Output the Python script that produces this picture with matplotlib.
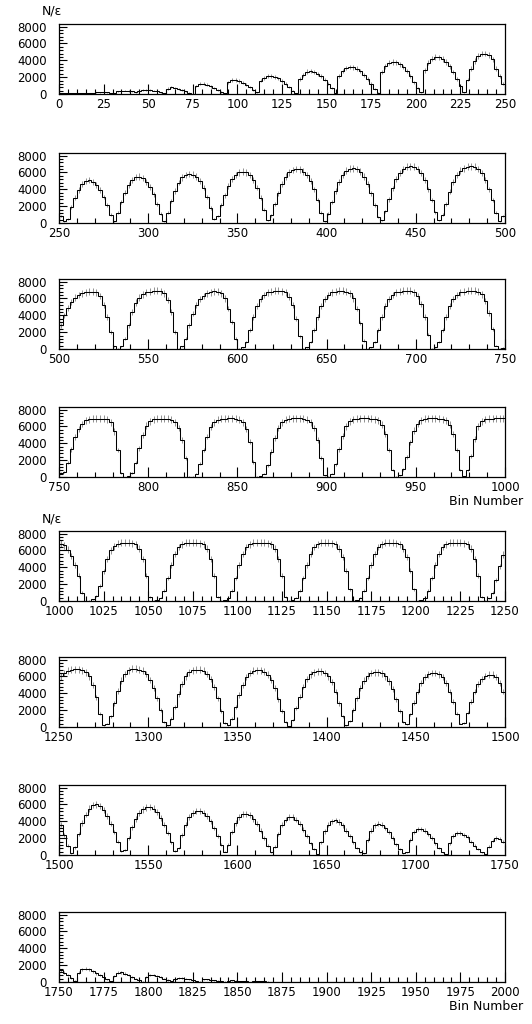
import numpy as np
import matplotlib.pyplot as plt
from matplotlib.ticker import MultipleLocator

# N/eps per 2-bin step, in units of 100 counts
p1 = [1, 1, 1, 1, 1, 1, 1, 1, 1, 1,
      2, 2, 2, 2, 1, 1,
      3, 4, 4, 3.5, 3, 2,
      4, 5, 5, 4.5, 4, 3, 2, 1,
      6.5, 8, 7.5, 6, 4.5, 3, 1.5, 0.5,
      9.5, 12, 12, 11, 9, 7, 4.5, 2.5, 0.8,
      14, 16.5, 16.5, 15.5, 13.5, 11, 8, 5, 2,
      16, 19, 21, 21.5, 20.5, 18.5, 15.5, 12, 8, 4, 1,
      18, 23, 26.5, 27, 26, 24, 21, 17, 12, 7, 1.5,
      21, 27, 31, 32, 31.5, 30, 27, 23, 18, 12, 6, 1.5,
      26, 33, 37, 38, 37.5, 35.5, 32, 27, 21, 14, 7, 2,
      28, 37, 42, 44, 43.5, 41.5, 38, 33, 26, 18, 9, 2,
      17, 30, 39, 45, 48, 48, 46, 41, 30, 21, 12]

p2 = [8, 2, 5, 19, 30, 39, 46, 50, 51, 49, 45, 39, 31, 21, 10, 2,
      12, 25, 36, 45, 51, 54.5, 55, 53, 49, 43, 34, 23, 11, 2,
      12, 26, 38, 48, 54, 57, 58, 57.5, 55, 50, 42, 31, 18, 5,
      8, 21, 33, 44, 52, 57, 60, 61, 60, 57, 51, 42, 30, 16, 3,
      9, 22, 35, 46, 55, 60, 63, 64, 63.5, 61, 57, 50, 40, 27, 12, 2,
      11, 25, 38, 49, 57, 62, 64.5, 65, 64, 61, 55, 46, 35, 21, 7,
      3, 14, 28, 41, 52, 59, 64, 66.5, 67, 66.5, 64, 59, 51, 40, 27, 13, 3,
      10, 23, 37, 49, 57, 62, 65, 66.5, 67, 66.5, 64, 59, 51, 40, 27, 12, 2, 8]

p3 = [28, 40, 49, 56, 61, 64, 66, 67, 68, 68, 67, 63, 52, 38, 20, 3,
      0.5, 3, 12, 28, 44, 55, 61, 65, 67, 68, 69, 69, 68.5, 66, 58, 44, 20,
      0.5, 3, 12, 28, 42, 52, 59, 63, 66, 67.5, 68.5, 68, 66, 60, 48, 32, 12,
      0.5, 2, 8, 22, 38, 51, 59, 64, 67, 68, 69, 69, 68.5, 67, 62, 52, 36, 15,
      0.5, 2, 8, 22, 38, 51, 59, 64, 67, 68, 69, 69, 68, 66, 60, 48, 31, 10,
      0.5, 2, 8, 22, 38, 51, 59, 64, 67, 68, 69, 69, 69, 67.5, 63, 53, 38, 17,
      0.5, 2, 8, 22, 38, 51, 59, 64, 67, 68, 69, 69, 69, 68, 65, 57, 43, 24, 4, 0.5, 1.5]

p4 = [5, 6, 17, 33, 47, 57, 63, 67, 68.5, 69, 69, 69, 69, 68.5, 65, 54, 32, 5,
      0.3, 1, 5, 17, 34, 50, 61, 66, 68.5, 69, 69, 69, 69, 68, 65, 58, 44, 22,
      0.5, 0.5, 4, 16, 32, 48, 59, 65, 68, 69, 69, 69.5, 69.5, 69, 68, 65, 57, 42, 18,
      0.5, 1, 4, 14, 30, 46, 58, 65, 68, 69, 69.5, 69.5, 69.5, 69, 68, 65, 58, 44, 22, 2,
      0.5, 4, 15, 33, 49, 60, 66, 68.5, 69, 69.5, 69.5, 69.5, 69, 68.5, 67, 62, 51, 32, 8,
      0.5, 2, 9, 24, 41, 55, 63, 67, 69, 69.5, 69.5, 69.5, 69, 68.5, 67, 62, 51, 32, 8,
      1, 8, 25, 45, 60, 66, 68.5, 69, 69, 69.5, 69.5, 69.5]

p5 = [68, 66, 61, 53, 43, 30, 10, 0.5, 0.5, 2, 6, 18, 35, 50, 60, 65, 68, 69, 69, 69,
      68.5, 67, 62, 50, 30, 5,
      0.5, 1, 4, 12, 27, 43, 56, 64, 67.5, 69, 69, 69, 69, 68.5, 67, 62, 50, 30, 5,
      0.5, 1, 4, 12, 27, 43, 56, 64, 67.5, 69, 69, 69, 69, 68.5, 67, 62, 50, 30, 5,
      0.5, 1, 4, 12, 27, 43, 56, 64, 67.5, 69, 69, 69, 68.5, 67, 62, 52, 36, 14,
      0.5, 1, 4, 12, 27, 43, 56, 64, 67.5, 69, 69, 69, 68.5, 67, 62, 52, 36, 14,
      0.5, 1, 4, 12, 27, 43, 56, 64, 67.5, 69, 69, 69, 69, 68.5, 67, 62, 50, 30, 5,
      0.5, 3, 10, 25, 41, 55]

p6 = [60, 64, 66.5, 68, 68.5, 68.5, 67.5, 65, 60, 50, 35, 16, 2,
      4, 13, 28, 43, 55, 63, 67, 69, 69, 68, 66.5, 63, 56, 46, 34, 20, 6,
      2, 10, 24, 39, 51, 60, 65, 67.5, 68, 68, 66.5, 63, 57, 47, 34, 19, 5,
      2, 10, 24, 38, 50, 59, 64, 66.5, 67, 67, 65.5, 62, 56, 46, 33, 19, 6,
      1, 8, 22, 36, 48, 57, 62.5, 65, 66, 66, 64, 60, 53, 42, 28, 13, 2,
      7, 20, 34, 46, 55, 61, 64, 65, 65, 63.5, 60, 54, 45, 33, 19, 6,
      3, 15, 29, 42, 52, 59, 62.5, 64, 64, 62.5, 59, 52, 42, 30, 16, 4,
      5, 17, 30, 42, 51, 57, 60.5, 62, 62, 59, 52, 42]

p7 = [36, 24, 11, 2,
      9, 25, 38, 48, 55, 59, 60, 58, 53, 46, 37, 27, 16, 5,
      6, 20, 33, 43, 50, 54, 56.5, 57, 55, 51, 44, 36, 26, 15, 5,
      8, 24, 36, 45, 50, 52, 52, 50, 46, 40, 32, 22, 12, 4,
      12, 27, 38, 45, 48.5, 49, 47, 43, 37, 29, 20, 11, 3,
      10, 25, 36, 42, 45, 45, 42, 37, 30, 22, 14, 7, 1,
      15, 28, 36, 40, 41, 39, 35, 29, 22, 15, 8, 3,
      2, 18, 29, 35, 37, 36, 32, 27, 20, 13, 7, 2,
      3, 18, 27, 31, 31, 29, 25, 20, 14, 8, 3,
      1, 14, 22, 26, 26, 24, 21, 16, 11, 7, 3, 1,
      10, 17, 20, 19.5, 16]

p8 = [14, 11, 8, 4.5, 1.5,
      11, 15, 16, 15, 13, 10.5, 8, 5.5, 3, 1,
      7, 11, 11.5, 10, 8, 6, 4, 2, 0.5,
      6, 8, 8, 7, 5.5, 4, 2.5, 1,
      3, 5, 5, 4, 3, 2, 1, 0.5,
      3, 3, 2.5, 2, 1.5, 1, 0.5,
      1.5, 2, 1.5, 1.2, 1, 0.6, 0.3,
      1, 1, 0.8, 0.6, 0.5, 0.3, 0.2, 0.1] + [0] * 63

panels = [p1, p2, p3, p4, p5, p6, p7, p8]
starts = [0, 250, 500, 750, 1000, 1250, 1500, 1750]
major = [25, 50, 50, 50, 25, 50, 50, 25]
minor = [5, 10, 10, 10, 5, 10, 10, 5]
tops = [24, 153, 279, 407, 531, 657, 785, 912]

W, H = 532, 1024
fig = plt.figure(figsize=(W / 100, H / 100), dpi=100)
plt.rcParams['font.family'] = 'DejaVu Sans'

for k in range(8):
    vals = np.array(panels[k], dtype=float) * 100
    assert len(vals) == 125, (k, len(vals))
    s = starts[k]
    edges = np.arange(s, s + 251, 2)
    centers = edges[:-1] + 1

    ax = fig.add_axes([59 / W, 1 - (tops[k] + 70) / H, 446 / W, 70 / H])
    ax.errorbar(centers, vals, yerr=5 * np.sqrt(vals), fmt='none',
                ecolor='0.5', elinewidth=0.6, zorder=1)
    ax.stairs(vals, edges, color='black', lw=0.75, baseline=None, zorder=2)

    ax.set_xlim(s, s + 250)
    ax.set_ylim(0, 8300)
    ax.xaxis.set_major_locator(MultipleLocator(major[k]))
    ax.xaxis.set_minor_locator(MultipleLocator(minor[k]))
    ax.yaxis.set_major_locator(MultipleLocator(2000))
    ax.yaxis.set_minor_locator(MultipleLocator(400))
    ax.tick_params(which='both', direction='in', top=False, right=False,
                   labelsize=8.5, width=0.8)
    ax.tick_params(axis='x', which='major', length=7, pad=3)
    ax.tick_params(axis='x', which='minor', length=3.5)
    ax.tick_params(axis='y', which='major', length=6, pad=9)
    ax.tick_params(axis='y', which='minor', length=3)
    for sp in ax.spines.values():
        sp.set_linewidth(0.9)

    if k in (3, 7):
        fig.text(523 / W, 1 - (tops[k] + 88) / H, 'Bin Number',
                 ha='right', va='top', fontsize=9)
    if k in (0, 4):
        fig.text(42 / W, 1 - (tops[k] - 6) / H, 'N/\u03b5',
                 ha='left', va='bottom', fontsize=9)

fig.savefig('out.png', dpi=100)
